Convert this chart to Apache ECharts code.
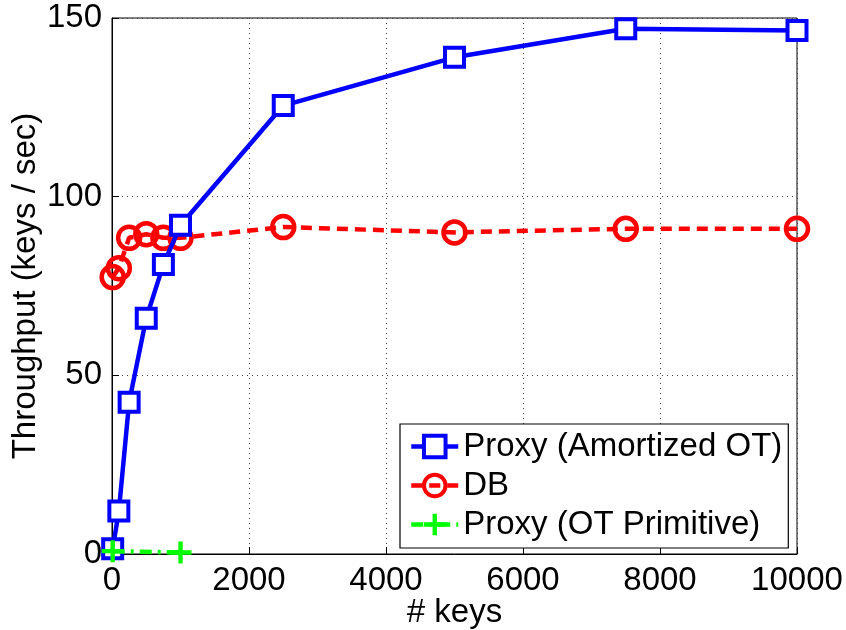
<!DOCTYPE html>
<html>
<head>
<meta charset="utf-8">
<style>
  html, body { margin: 0; padding: 0; background: #fff; }
  #chart { width: 846px; height: 630px; }
</style>
<script src="https://cdn.jsdelivr.net/npm/echarts@6/dist/echarts.min.js"></script>
</head>
<body>
<div id="chart"></div>
<script>
// Throughput vs. number of keys
const keys = [10, 100, 250, 500, 750, 1000, 2500, 5000, 7500, 10000];
const proxyAmortized = [1.5, 12, 42.5, 66, 81, 92, 125.5, 139, 147, 146.5];
const dbThroughput = [77.5, 80, 88.5, 89.5, 88.5, 88.5, 91.5, 90, 91, 91];
const primitiveKeys = [10, 1000];
const proxyPrimitive = [0.8, 0.4];

const xTicks = [0, 2000, 4000, 6000, 8000, 10000];
const yTicks = [0, 50, 100, 150];

const FONT = 'Liberation Sans, Arial, Helvetica, sans-serif';

function pairs(xs, ys) { return xs.map((x, i) => [x, ys[i]]); }

const plusPath = 'path://M8,0H12V8H20V12H12V20H8V12H0V8H8Z';

const chart = echarts.init(document.getElementById('chart'), null, { renderer: 'canvas' });

chart.setOption({
  animation: false,
  backgroundColor: '#ffffff',
  grid: {
    left: 112, right: 49, top: 18, bottom: 76,
    outerBoundsMode: 'none',
    containLabel: false,
    show: true, borderColor: '#000', borderWidth: 1, backgroundColor: 'transparent'
  },
  legend: {
    orient: 'vertical',
    left: 400, top: 424,
    padding: [6, 6, 7, 9],
    itemGap: 6,
    itemWidth: 47,
    itemHeight: 27,
    backgroundColor: '#fff',
    borderColor: '#000',
    borderWidth: 1.2,
    borderRadius: 0,
    itemStyle: { borderWidth: 4 },
    lineStyle: { width: 4.5 },
    textStyle: { fontFamily: FONT, fontSize: 33, lineHeight: 33, color: '#000' },
    data: ['Proxy (Amortized OT)', 'DB', 'Proxy (OT Primitive)']
  },
  xAxis: {
    type: 'value',
    min: 0, max: 10000, interval: 2000,
    name: '# keys',
    nameLocation: 'middle',
    nameGap: 42,
    nameMoveOverlap: false,
    nameTextStyle: { fontFamily: FONT, fontSize: 33, color: '#000' },
    axisLine: { lineStyle: { color: '#000', width: 1 } },
    axisTick: { inside: true, length: 7, lineStyle: { color: '#000' } },
    axisLabel: { fontFamily: FONT, fontSize: 33, color: '#000', margin: 10,
      formatter: v => xTicks.includes(v) ? String(v) : '' },
    splitLine: { show: true, lineStyle: { color: '#444', type: [1, 4], width: 1 } }
  },
  yAxis: {
    type: 'value',
    min: 0, max: 150, interval: 50,
    name: 'Throughput (keys / sec)',
    nameLocation: 'middle',
    nameGap: 70,
    nameMoveOverlap: false,
    nameTextStyle: { fontFamily: FONT, fontSize: 33, color: '#000' },
    axisLine: { show: true, lineStyle: { color: '#000', width: 1 } },
    axisTick: { show: true, inside: true, length: 7, lineStyle: { color: '#000' } },
    axisLabel: { fontFamily: FONT, fontSize: 33, color: '#000', margin: 10,
      formatter: v => yTicks.includes(v) ? String(v) : '' },
    splitLine: { show: true, lineStyle: { color: '#444', type: [1, 4], width: 1 } }
  },
  series: [
    {
      name: 'Proxy (Amortized OT)',
      type: 'line',
      data: pairs(keys, proxyAmortized),
      symbol: 'rect',
      symbolSize: 19,
      z: 3,
      itemStyle: { color: '#fff', borderColor: '#0000ff', borderWidth: 4 },
      lineStyle: { color: '#0000ff', width: 4.5 },
      color: '#0000ff'
    },
    {
      name: 'DB',
      type: 'line',
      data: pairs(keys, dbThroughput),
      symbol: 'circle',
      symbolSize: 22,
      z: 2,
      itemStyle: { color: 'rgba(255,255,255,0)', borderColor: '#ff0000', borderWidth: 4.5 },
      lineStyle: { color: '#ff0000', width: 4.5, type: [11, 7] },
      color: '#ff0000'
    },
    {
      name: 'Proxy (OT Primitive)',
      type: 'line',
      data: pairs(primitiveKeys, proxyPrimitive),
      symbol: plusPath,
      symbolSize: 22,
      z: 4,
      itemStyle: { color: '#00ff00', borderWidth: 0 },
      lineStyle: { color: '#00ff00', width: 4.5, type: [12, 6, 3, 6] },
      color: '#00ff00'
    }
  ]
});
</script>
</body>
</html>
